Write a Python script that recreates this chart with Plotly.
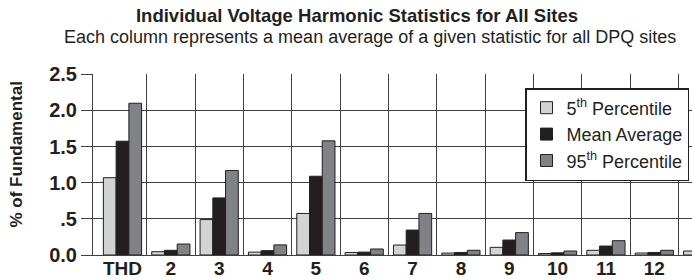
import plotly.graph_objects as go

categories = ["THD", "2", "3", "4", "5", "6", "7", "8", "9", "10", "11", "12", "13"]
p5 = [1.07, 0.046, 0.49, 0.04, 0.575, 0.035, 0.138, 0.027, 0.106, 0.02, 0.065, 0.027, 0.055]
mean_avg = [1.575, 0.065, 0.79, 0.06, 1.09, 0.04, 0.345, 0.035, 0.207, 0.03, 0.124, 0.035, 0.08]
p95 = [2.10, 0.152, 1.17, 0.14, 1.58, 0.083, 0.575, 0.065, 0.31, 0.055, 0.198, 0.065, 0.12]
series_names = ["5<sup>th</sup> Percentile", "Mean Average", "95<sup>th</sup> Percentile"]
y_tickvals = [0, 0.5, 1.0, 1.5, 2.0, 2.5]
y_ticktext = ["0.0", ".5", "1.0", "1.5", "2.0", "2.5"]

x_pos = list(range(len(categories)))
colors = ["#d1d3d4", "#231f20", "#808285"]
INK = "#231f20"
GRID = "#3f3f3f"
FONT = "Liberation Sans, Arial, sans-serif"

fig = go.Figure()
for name, vals, col in zip(series_names, [p5, mean_avg, p95], colors):
    fig.add_trace(go.Bar(
        x=x_pos, y=vals, name=name,
        marker=dict(color=col, line=dict(color=INK, width=1)),
    ))

fig.update_layout(
    width=692, height=280,
    margin=dict(l=93, r=0, t=74, b=25, autoexpand=False),
    paper_bgcolor="white", plot_bgcolor="white",
    barmode="group", bargap=0.21, bargroupgap=0,
    showlegend=True,
    legend=dict(
        x=(689 - 93) / 599, y=(255 - 88) / 181, xanchor="right", yanchor="top",
        bgcolor="white", bordercolor=INK, borderwidth=1.5,
        font=dict(family=FONT, size=18, color=INK),
        tracegroupgap=0, itemwidth=30,
    ),
    title=dict(
        text="<b>Individual Voltage Harmonic Statistics for All Sites</b>",
        x=357 / 692, xanchor="center", y=1 - 15.5 / 280, yanchor="middle",
        font=dict(family=FONT, size=18.5, color=INK), automargin=False,
    ),
    annotations=[
        dict(text="Each column represents a mean average of a given statistic for all DPQ sites",
             xref="paper", yref="paper", x=(369.5 - 93) / 599, y=1 + (74 - 37.5) / 181,
             xanchor="center", yanchor="middle", showarrow=False,
             font=dict(family=FONT, size=18, color=INK)),
        dict(text="<b>% of Fundamental</b>",
             xref="paper", yref="paper", x=(15.5 - 93) / 599, y=(255 - 155) / 181,
             xanchor="center", yanchor="middle", showarrow=False, textangle=-90,
             font=dict(family=FONT, size=17, color=INK)),
    ],
)

fig.update_xaxes(
    automargin=False,
    range=[-0.61, 11.78],
    tickmode="array", tickvals=x_pos, ticktext=categories,
    showgrid=False, ticks="", zeroline=False,
    showline=True, linecolor=GRID, linewidth=1,
    minor=dict(tickmode="array", tickvals=[p + 0.5 for p in x_pos], showgrid=True,
               gridcolor=GRID, gridwidth=1, ticks=""),
    tickfont=dict(family=FONT, size=19, color=INK, weight="bold"),
    ticklabelstandoff=-4,
)
fig.update_yaxes(
    automargin=False,
    range=[0, 2.505],
    tickmode="array", tickvals=y_tickvals, ticktext=y_ticktext,
    showgrid=True, gridcolor=GRID, gridwidth=1,
    zeroline=True, zerolinecolor=GRID, zerolinewidth=1,
    showline=True, linecolor=GRID, linewidth=1,
    ticks="outside", ticklen=11, tickcolor=GRID, tickwidth=1,
    tickfont=dict(family=FONT, size=20, color=INK, weight="bold"),
)

fig.write_html(
    "out.html",
    config={"displayModeBar": False},
    post_script="document.body.style.margin='0';document.body.style.padding='0';",
)
